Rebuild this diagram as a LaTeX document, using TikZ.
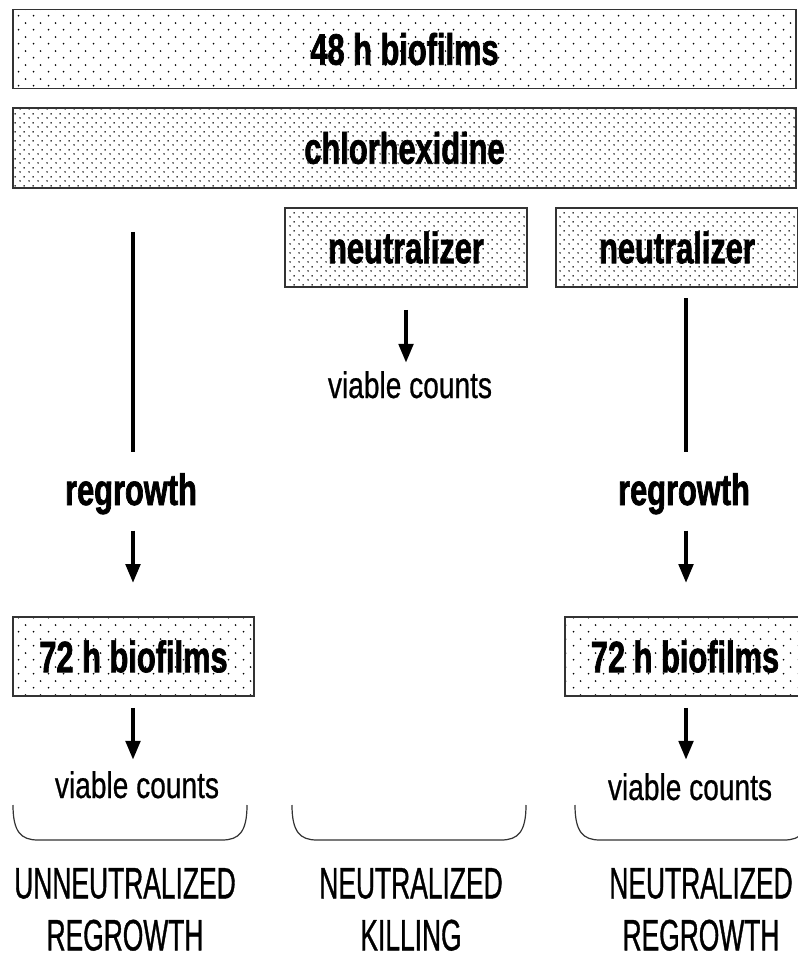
\documentclass[tikz,border=0pt]{standalone}
\usepackage{fontspec}
\usetikzlibrary{patterns,arrows.meta}
\newfontfamily\boxfont[FakeStretch=0.7,FakeBold=1.5]{Liberation Sans Bold}
\newfontfamily\countfont[FakeStretch=0.76,FakeBold=0.6]{Liberation Sans}
\newfontfamily\capfont[FakeStretch=0.6,FakeBold=0.8]{Liberation Sans}
\pgfdeclarepatternformonly{sparsedots}{\pgfpointorigin}{\pgfqpoint{15pt}{14pt}}{\pgfqpoint{15pt}{14pt}}{%
  \pgfpathcircle{\pgfqpoint{3.75pt}{3.5pt}}{1pt}
  \pgfpathcircle{\pgfqpoint{11.25pt}{10.5pt}}{1pt}
  \pgfusepath{fill}}
\pgfdeclarepatternformonly{densedots}{\pgfpointorigin}{\pgfqpoint{9pt}{9pt}}{\pgfqpoint{9pt}{9pt}}{%
  \pgfpathcircle{\pgfqpoint{2.25pt}{2.25pt}}{0.9pt}
  \pgfpathcircle{\pgfqpoint{6.75pt}{6.75pt}}{0.9pt}
  \pgfusepath{fill}}
\begin{document}
\begin{tikzpicture}[x=1pt,y=-1pt,
  every node/.style={inner sep=0pt},
  stage/.style={draw=black!80,line width=1.6pt,minimum height=79pt,
    font=\boxfont\fontsize{44}{52}\selectfont},
  sparse/.style={stage,pattern=sparsedots},
  dense/.style={stage,pattern=densedots},
  growlabel/.style={font=\boxfont\fontsize{44}{52}\selectfont,anchor=base},
  countlabel/.style={font=\countfont\fontsize{37}{44}\selectfont,anchor=base},
  captext/.style={font=\capfont\fontsize{44}{52}\selectfont,align=center,anchor=south},
  trackline/.style={line width=4.5pt},
  flowarrow/.style={line width=4.5pt,-{Triangle[length=19pt,width=14pt]}},
  bracket/.style={line width=1.2pt,draw=black!80}]
\useasboundingbox (0,0) rectangle (797,957);
% treatment
\node[sparse,minimum width=783pt] (start) at (404.5,49) {48 h biofilms};
\node[dense,minimum width=783pt,minimum height=80pt] (chx) at (404.5,148) {chlorhexidine};
\node[dense,minimum width=242pt] (neutM) at (406,247.5) {neutralizer};
\node[dense,minimum width=242pt] (neutR) at (677,247.5) {neutralizer};
\coordinate (trackL) at (133,232);
\coordinate (trackR) at (686,298);
\node[growlabel] (regrowL) at (131,505) {regrowth};
\node[growlabel] (regrowR) at (684,505) {regrowth};
\node[sparse,minimum width=241pt] (biofL) at (133.5,656.5) {72 h biofilms};
\node[sparse,minimum width=240pt] (biofR) at (685,656.5) {72 h biofilms};
\node[countlabel] (countM) at (410,398) {viable counts};
\node[countlabel] (countL) at (137,798) {viable counts};
\node[countlabel] (countR) at (690,800) {viable counts};
% connectors
\draw[trackline,shorten >=21pt] (trackL) -- (trackL |- regrowL.north);
\draw[trackline,shorten >=21pt] (trackR) -- (trackR |- regrowR.north);
\draw[flowarrow,shorten <=22pt,shorten >=8pt] (neutM.south) -- (neutM.south |- countM.north);
\draw[flowarrow,shorten <=16pt,shorten >=33pt] (regrowL.south -| trackL) -- (trackL |- biofL.north);
\draw[flowarrow,shorten <=16pt,shorten >=33pt] (regrowR.south -| trackR) -- (trackR |- biofR.north);
\draw[flowarrow,shorten <=11pt,shorten >=11pt] (biofL.south -| trackL) -- (trackL |- countL.north);
\draw[flowarrow,shorten <=11pt,shorten >=13pt] (biofR.south -| trackR) -- (trackR |- countR.north);
% groups
\foreach \bx in {13,292,575}
  \draw[bracket] (\bx,805) .. controls (\bx,832) and (\bx+8,840) .. (\bx+25,840)
    -- (\bx+209,840) .. controls (\bx+226,840) and (\bx+234,832) .. (\bx+234,805);
\node[captext] (capL) at (125,951) {UNNEUTRALIZED\\REGROWTH};
\node[captext] (capM) at (411,951) {NEUTRALIZED\\KILLING};
\node[captext] (capR) at (701,951) {NEUTRALIZED\\REGROWTH};
\end{tikzpicture}
\end{document}
